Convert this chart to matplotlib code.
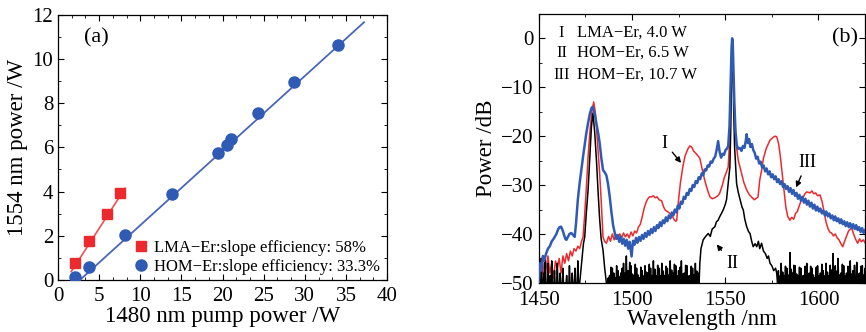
import numpy as np
import matplotlib
matplotlib.use("Agg")
import matplotlib.pyplot as plt
from matplotlib.ticker import MultipleLocator, AutoMinorLocator

plt.rcParams['font.family'] = ['Liberation Serif', 'DejaVu Serif']

# --- (a) output power vs pump power ---
lma_pump = [2.1, 3.8, 6.0, 7.5]
lma_power = [0.78, 1.75, 2.98, 3.92]
lma_fit_x = [1.6, 8.15]
lma_fit_y = [0.37, 4.15]

hom_pump = [2.1, 3.8, 8.1, 13.8, 19.5, 20.5, 21.0, 24.3, 28.7, 34.0]
hom_power = [0.15, 0.6, 2.05, 3.9, 5.75, 6.1, 6.38, 7.55, 8.98, 10.65]
hom_fit_x = [2.68, 37.2]
hom_fit_y = [0.0, 11.67]

lma_label = "LMA−Er:slope efficiency: 58%"
hom_label = "HOM−Er:slope efficiency: 33.3%"

# --- (b) spectra (wavelength nm, power dB) ---
spec_lma = [
    (1450, -50), (1450.8, -45), (1451.5, -49), (1452.3, -46), (1453, -50), (1454, -47),
    (1455, -44.5), (1456, -48), (1457, -46), (1458, -49), (1459, -45.5), (1460, -47),
    (1461, -45), (1462, -48), (1463, -44.5), (1464, -46), (1465, -44), (1466, -45.5),
    (1467, -43.5), (1468, -44.5), (1469, -43), (1470, -43.5), (1471, -42.5), (1472, -43),
    (1473, -41.5), (1473.8, -40.6), (1474.5, -37), (1475.5, -31), (1476.5, -24.2),
    (1477.5, -19), (1478.5, -15), (1479.5, -13), (1480.5, -15.5), (1481.3, -20),
    (1482, -24), (1482.7, -27.6), (1483.5, -33), (1484.5, -40.6), (1485.3, -41.5),
    (1486.3, -41.9), (1487.5, -40.5), (1488.5, -41.5), (1489.5, -40), (1490.5, -41.2),
    (1491.5, -40.2), (1492.5, -41), (1493.5, -40), (1494.5, -40.8), (1495.5, -39.8),
    (1496.5, -40.6), (1497.5, -40), (1498.5, -40.8), (1499.5, -39.6), (1500.5, -40.4),
    (1501.5, -39.4), (1502.5, -39.8), (1503.5, -38.6), (1504.5, -38), (1505.5, -36.5),
    (1506.5, -34.8), (1507.5, -33.6), (1508.5, -32.8), (1509.5, -32.4), (1510.5, -32.4),
    (1511.5, -32.2), (1512.5, -32.6), (1513.5, -32.4), (1514.5, -33), (1515.9, -33.2),
    (1517, -34.5), (1518, -35.2), (1519, -35.4), (1520.3, -35.8), (1521.5, -36.2),
    (1522.5, -37), (1523.5, -37.4), (1524, -37.2), (1525, -33), (1526, -29.5),
    (1527.3, -26.2), (1528.5, -24), (1530, -22.6), (1531, -22), (1532, -22.2),
    (1533, -23), (1534.5, -23.6), (1536.4, -24.5), (1537.5, -26.5), (1539, -29),
    (1540.5, -31), (1541.8, -32.4), (1543, -32.8), (1544.5, -32.6), (1546, -32.2),
    (1547, -31.7), (1548.5, -30), (1549.5, -28.5), (1550.5, -27.5), (1551.6, -26.3),
    (1552.5, -20), (1553, -12), (1553.4, -4), (1553.7, 0), (1554, -2), (1554.4, -9),
    (1555, -16), (1556, -22), (1557, -25), (1557.9, -26.3), (1559, -28), (1560, -29.5),
    (1561.5, -31), (1563, -32), (1564.5, -32.6), (1565.5, -33), (1566.8, -32.7),
    (1567.6, -32.4), (1568.5, -29), (1569.5, -27), (1570.5, -24.5), (1572, -22.5),
    (1574, -20.8), (1575.5, -20.3), (1576.6, -20), (1577.6, -20.1), (1578.6, -21.5),
    (1579.5, -24), (1580.5, -27.5), (1581.5, -31), (1582.5, -34.5), (1583.5, -36.4),
    (1584.7, -37.2), (1585.7, -36.6), (1586.7, -37), (1587.7, -35.8), (1588.7, -35.4),
    (1589.7, -34.2), (1590.7, -33.2), (1591.7, -32.6), (1592.7, -31.8), (1593.7, -31.4),
    (1595.5, -31.6), (1596.5, -31.2), (1597.5, -31.8), (1598.5, -31.6), (1599.5, -32.2),
    (1600.8, -32), (1602, -33.5), (1603, -35.5), (1604, -37.5), (1605, -38.8),
    (1606, -39.6), (1607, -39.8), (1608, -40.4), (1609, -40), (1610, -40.8),
    (1611, -41.2), (1612, -42), (1613, -42.6), (1614, -41.5), (1615, -40.5),
    (1616, -39.5), (1617, -39), (1617.8, -38.8), (1618.8, -40), (1619.8, -41),
    (1621, -41.9), (1622, -41), (1623, -41.6), (1624, -41.2), (1625, -41.8),
]

spec_hom_high = [
    (1450, -50), (1450.7, -46), (1451.5, -47.5), (1452.3, -44.5), (1453, -45.5), (1454, -44),
    (1455, -43), (1456, -42.5), (1457, -41.5), (1458, -41), (1458.6, -40.6), (1459.5, -40),
    (1460.5, -39), (1461.3, -38.6), (1462, -38.5), (1462.8, -39.2), (1463.6, -40.2),
    (1464.3, -41), (1464.9, -41.2), (1465.7, -40.6), (1466.5, -40), (1467.5, -39.8),
    (1468.4, -40.2), (1469.3, -40.6), (1470, -38), (1471, -33), (1472, -29.5), (1473, -26.5),
    (1473.8, -24.2), (1474.6, -22), (1475.5, -19.5), (1476.5, -17.3), (1477.5, -15.3),
    (1478.3, -14.3), (1478.8, -14), (1479.5, -14.6), (1480.3, -16), (1481, -17.5),
    (1482, -19.6), (1482.7, -21.4), (1483.6, -24.5), (1484.5, -26.9), (1485.4, -27.4),
    (1486.3, -28), (1487.2, -29.8), (1488.1, -32.4), (1489, -35.5), (1489.9, -38.2),
    (1490.8, -39.8), (1491.6, -41), (1492.4, -40.2), (1493.2, -41.6), (1494, -40.6),
    (1494.8, -42), (1495.6, -41), (1496.4, -42.4), (1497.2, -41.2), (1498, -43),
    (1498.8, -41.6), (1499.8, -44.6), (1500.6, -41.4), (1501.4, -42.2), (1502.2, -40.8),
    (1503, -41.8), (1503.8, -40.6), (1504.6, -41.4), (1505.4, -40.2), (1506.2, -41),
    (1507, -39.8), (1507.8, -40.6), (1508.6, -39.4), (1509.4, -40.2), (1510.2, -39),
    (1511, -39.8), (1511.8, -38.6), (1512.6, -39.4), (1513.4, -38.2), (1514.2, -38.8),
    (1515, -37.6), (1515.8, -38.4), (1516.6, -37.2), (1517.4, -37.8), (1518.2, -36.6),
    (1519, -37.4), (1519.8, -36.2), (1520.6, -36.8), (1521.4, -35.6), (1522.2, -36.2),
    (1523, -35), (1523.8, -35.6), (1524.6, -34.2), (1525.4, -34.8), (1526.2, -33.4),
    (1527, -33.8), (1527.8, -32.4), (1528.6, -32.8), (1529.4, -31.6), (1530.2, -32),
    (1531, -30.8), (1531.8, -31.2), (1532.6, -30), (1533.4, -30.4), (1534.2, -29.2),
    (1535, -29.6), (1535.8, -28.4), (1536.6, -28.8), (1537.4, -27.6), (1538.2, -28),
    (1539, -26.8), (1539.8, -27), (1540.6, -26), (1541.4, -26.2), (1542.2, -25.2),
    (1543, -25.4), (1543.8, -24.6), (1544.6, -24.2), (1545.4, -22.8), (1546.2, -21),
    (1547, -23.2), (1547.8, -24.4), (1548.6, -23.6), (1549.4, -23.8), (1550.2, -22.8),
    (1550.9, -22.6), (1551.6, -22), (1552.3, -18), (1552.9, -9), (1553.4, -2),
    (1553.7, 0), (1554, -0.5), (1554.4, -6), (1554.9, -13), (1555.5, -19), (1556.2, -21.8),
    (1557, -22.6), (1557.9, -22.4), (1558.7, -23), (1559.5, -22), (1560.3, -22.4),
    (1561, -21), (1561.5, -19.6), (1562.1, -21.4), (1562.8, -20.6), (1563.5, -22.2),
    (1564.3, -21.6), (1565, -22.8), (1565.8, -23.4), (1566.6, -24.6), (1567.4, -24.2),
    (1568.2, -25.6), (1569, -25.2), (1569.8, -26.4), (1570.6, -26), (1571.4, -27.2),
    (1572.2, -26.6), (1573, -27.8), (1573.8, -27.2), (1574.6, -28.4), (1575.4, -27.8),
    (1576.2, -28.8), (1577, -28.2), (1577.8, -29.4), (1578.6, -28.8), (1579.4, -29.8),
    (1580.2, -29.2), (1581, -30.4), (1581.8, -29.8), (1582.6, -30.8), (1583.4, -30.2),
    (1584.2, -31.4), (1585, -30.6), (1585.8, -31.8), (1586.6, -31), (1587.4, -32.2),
    (1588.2, -31.6), (1589, -32.8), (1589.8, -32), (1590.6, -33.2), (1591.4, -32.4),
    (1592.2, -33.6), (1593, -32.8), (1593.8, -34), (1594.6, -33.2), (1595.4, -34.4),
    (1596.2, -33.6), (1597, -34.8), (1597.8, -34), (1598.6, -35.2), (1599.4, -34.4),
    (1600.2, -35.4), (1601, -34.8), (1601.8, -35.8), (1602.6, -35.2), (1603.4, -36.2),
    (1604.2, -35.4), (1605, -36.4), (1605.8, -35.8), (1606.6, -36.8), (1607.4, -36.2),
    (1608.2, -37.2), (1609, -36.4), (1609.8, -37.4), (1610.6, -36.8), (1611.4, -37.8),
    (1612.2, -37), (1613, -38), (1613.8, -37.4), (1614.6, -38.4), (1615.4, -37.6),
    (1616.2, -38.6), (1617, -37.8), (1617.8, -38.8), (1618.6, -38), (1619.4, -39),
    (1620.2, -38.2), (1621, -39.2), (1621.8, -38.6), (1622.6, -39.6), (1623.4, -38.8),
    (1624.2, -39.8), (1625, -39.2),
]

# HOM 6.5 W: smooth parts around the pump and the signal
hom_low_pump = [
    (1472, -50), (1473, -46), (1474, -42), (1474.7, -40.6), (1475.5, -36), (1476.5, -31),
    (1477.5, -24), (1478.3, -18), (1479.1, -15.3), (1480, -19), (1481, -25), (1481.8, -31),
    (1482.7, -37), (1483.5, -41), (1484.5, -43.3), (1485.4, -47), (1486.3, -50),
]
hom_low_signal = [
    (1536, -50), (1536.4, -46), (1537, -43), (1538.2, -41.2), (1539.5, -40.5),
    (1540.9, -39.9), (1542, -40.5), (1543, -39), (1544.5, -38.5), (1545.3, -37.5),
    (1546.2, -37.2), (1547, -36.5), (1548, -35.8), (1549, -35), (1550, -34), (1550.7, -33),
    (1551.5, -30), (1552.5, -26.3), (1553, -18), (1553.4, -6), (1553.7, 0), (1554.1, -4),
    (1554.5, -14), (1555, -22), (1556.1, -29.7), (1557, -31.5), (1558, -33), (1559, -34.5),
    (1559.7, -35.1), (1560.5, -37), (1561.5, -38.5), (1562.5, -39.5), (1563.3, -39.9),
    (1564.2, -41.5), (1565, -42.6), (1566, -42), (1566.9, -42.6), (1567.8, -41.5),
    (1568.5, -43), (1569.5, -41.9), (1570.5, -43.5), (1571.5, -44), (1572.5, -45),
    (1573.2, -44.5), (1574, -46), (1575, -46.5), (1576, -47.5), (1577, -47), (1577.6, -48),
    (1578, -50),
]
# noise spikes above the -50 dB floor
hom_low_spikes_a = [
    (1450.5, -47), (1451.5, -45), (1452.8, -48), (1453.5, -44.5), (1455, -46), (1456.2, -48.5),
    (1457, -45.5), (1458.5, -47.5), (1460, -46), (1461.5, -48), (1463, -47), (1465, -48.5),
    (1466.5, -46.5), (1468, -48), (1469.5, -47), (1471, -45.5),
]
hom_low_spikes_b = [
    (1487.3, -49), (1488, -48.5), (1488.8, -46.8), (1489.5, -47), (1490.3, -48), (1491, -49),
    (1491.8, -46.5), (1492.5, -47.5), (1493.3, -48.8), (1494, -48), (1494.8, -47), (1495.5, -46),
    (1496.3, -48), (1497, -44.5), (1498, -47.5), (1498.8, -45.8), (1499.5, -46.5),
    (1500.3, -48.2), (1501, -48.5), (1501.8, -46.2), (1502.5, -47), (1503.3, -48.4),
    (1504, -49), (1504.8, -46.8), (1505.5, -47.5), (1506.3, -48.6), (1507, -46.5),
    (1507.8, -47.8), (1508.5, -48), (1509.3, -46.2), (1510, -47), (1510.8, -48.5),
    (1511.5, -45.5), (1512.3, -47.2), (1513, -48.5), (1513.8, -46.4), (1514.5, -47),
    (1515.3, -48.6), (1516, -46), (1516.8, -47.6), (1517.5, -48.5), (1518.3, -46.6),
    (1519, -47), (1519.8, -48.4), (1520.5, -45.5), (1521.3, -47.4), (1522, -48),
    (1522.8, -46.2), (1523.5, -46.5), (1524.3, -48.6), (1525, -47.5), (1525.8, -46.8),
    (1526.5, -45.5), (1527.3, -48.2), (1528, -48), (1528.8, -46.4), (1529.5, -46.5),
    (1530.3, -48.6), (1531, -48.5), (1531.8, -46.6), (1532.5, -47), (1533.3, -48.4),
    (1534, -46), (1534.8, -47.6), (1535.5, -48),
]
hom_low_spikes_c = [
    (1578.5, -47.5), (1579.3, -48.6), (1580, -46), (1580.8, -47.8), (1581.5, -48.5),
    (1582.3, -46.6), (1583, -47), (1583.8, -48.4), (1584.7, -43.8), (1585.4, -47.2),
    (1586, -48), (1586.8, -46.4), (1587.5, -46.5), (1588.3, -48.2), (1589, -48.5),
    (1589.8, -46.8), (1590.5, -47), (1591.3, -48.6), (1592, -48.5), (1592.8, -46.6),
    (1593.7, -46), (1594.4, -48.2), (1595, -48), (1595.8, -46.6), (1596.5, -47),
    (1597.3, -48.4), (1598, -49), (1598.8, -46.8), (1599.5, -46.5), (1600.3, -48.6),
    (1601, -48), (1601.8, -46.2), (1602.5, -47.5), (1603.3, -48.6), (1604, -46),
    (1604.8, -47.8), (1605.5, -48.5), (1606.3, -46.4), (1607, -47.4), (1607.8, -44),
    (1608.5, -48), (1609, -46.5), (1609.8, -47.6), (1610.5, -45), (1611.3, -48.4),
    (1612, -48), (1612.8, -46.2), (1613.5, -46.5), (1614.3, -48.6), (1615, -48),
    (1615.8, -46.6), (1617, -45.5), (1617.8, -48.2), (1618.5, -47.5), (1619.3, -46.4),
    (1620.5, -45.8), (1621.3, -48.2), (1622, -48), (1622.8, -46.6), (1623.5, -46.5),
    (1624.3, -48.4), (1625, -47),
]

legend_b = [("I", "LMA−Er, 4.0 W"), ("II", "HOM−Er, 6.5 W"), ("III", "HOM−Er, 10.7 W")]


def spikes_to_line(spikes, floor=-50, half=0.3):
    pts = []
    for x, y in spikes:
        pts += [(x - half, floor), (x, y), (x + half, floor)]
    return pts


hom_low = (spikes_to_line(hom_low_spikes_a) + hom_low_pump + spikes_to_line(hom_low_spikes_b)
           + hom_low_signal + spikes_to_line(hom_low_spikes_c))

RED = '#ec2a2e'
BLUE = '#2f5bb5'

fig = plt.figure(figsize=(8.66, 3.32), dpi=100)
ax1 = fig.add_axes([0.067, 0.157, 0.380, 0.798])
ax2 = fig.add_axes([0.622, 0.148, 0.377, 0.810])

# --- panel (a) ---
ax1.plot(lma_fit_x, lma_fit_y, color='#f05050', lw=1.2, zorder=2)
ax1.plot(hom_fit_x, hom_fit_y, color='#4a66b8', lw=1.3, zorder=2)
ax1.plot(lma_pump, lma_power, 's', color=RED, ms=7, mec=RED, zorder=3, label=lma_label)
ax1.plot(hom_pump, hom_power, 'o', color=BLUE, ms=8, mec=BLUE, zorder=3, label=hom_label)
ax1.set_xlim(0, 40)
ax1.set_ylim(0, 12)
ax1.xaxis.set_major_locator(MultipleLocator(5))
ax1.xaxis.set_minor_locator(AutoMinorLocator(3))
ax1.yaxis.set_major_locator(MultipleLocator(2))
ax1.yaxis.set_minor_locator(MultipleLocator(1))
ax1.set_xlabel("1480 nm pump power /W", fontsize=16.5, labelpad=0)
ax1.set_ylabel("1554 nm power /W", fontsize=16.5, labelpad=3)
ax1.text(4.7, 10.95, "(a)", fontsize=16, ha='center', va='center')
ax1.legend(loc='lower right', bbox_to_anchor=(1.01, -0.02), frameon=False, fontsize=12,
           handlelength=0.8, handletextpad=0.4, labelspacing=0.2, borderaxespad=0.2)

# --- panel (b) ---
ax2.plot(*zip(*spec_lma), color=RED, lw=1.1, zorder=2)
ax2.plot(*zip(*hom_low), color='black', lw=1.1, zorder=3)
ax2.plot(*zip(*spec_hom_high), color=BLUE, lw=1.8, zorder=4)
ax2.set_xlim(1450, 1625)
ax2.set_ylim(-50, 5)
ax2.xaxis.set_major_locator(MultipleLocator(50))
ax2.xaxis.set_minor_locator(MultipleLocator(25))
ax2.yaxis.set_major_locator(MultipleLocator(10))
ax2.yaxis.set_minor_locator(MultipleLocator(5))
ax2.set_xlabel("Wavelength /nm", fontsize=16.5, labelpad=-1)
ax2.set_ylabel("Power /dB", fontsize=16.5, labelpad=3)
ax2.yaxis.set_major_formatter(plt.FuncFormatter(lambda v, p: f"{v:.0f}".replace('-', '−')))

for i, (num, txt) in enumerate(legend_b):
    y = [0.929, 0.855, 0.773][i]
    ax2.text(0.07, y, num, transform=ax2.transAxes, fontsize=12, ha='center', va='center')
    ax2.text(0.117, y, txt, transform=ax2.transAxes, fontsize=12, ha='left', va='center')
ax2.text(0.939, 0.911, "(b)", transform=ax2.transAxes, fontsize=16, ha='center', va='center')

arrow = dict(arrowstyle='-|>', color='black', lw=1.0, mutation_scale=8)
ax2.annotate("I", xy=(1527.3, -25.9), xytext=(1517.6, -21.4), fontsize=13,
             ha='center', va='center', arrowprops=arrow)
ax2.annotate("II", xy=(1544.5, -41.7), xytext=(1553.6, -46.0), fontsize=13,
             ha='center', va='center', arrowprops=arrow)
ax2.annotate("III", xy=(1587.4, -31.0), xytext=(1593.9, -25.3), fontsize=13,
             ha='center', va='center', arrowprops=arrow)

for ax in (ax1, ax2):
    ax.tick_params(which='both', direction='in', top=True, right=True, labelsize=15)
    ax.tick_params(which='major', length=4, width=0.8)
    ax.tick_params(which='minor', length=2.5, width=0.6)
    for s in ax.spines.values():
        s.set_linewidth(0.9)
ax1.tick_params(axis='x', pad=5)
ax2.tick_params(axis='x', pad=6)

fig.savefig("out.png", dpi=100)
